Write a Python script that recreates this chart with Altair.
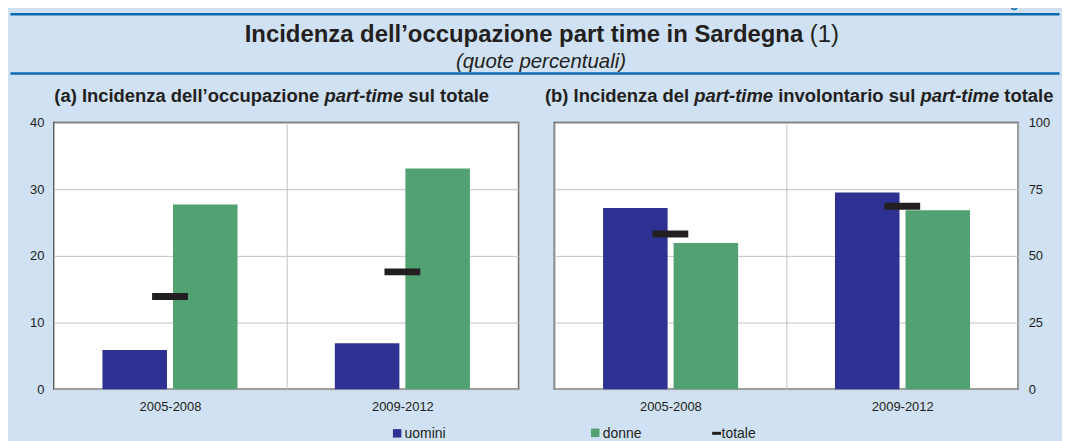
import altair as alt
import pandas as pd

# ---------------- data ----------------
periods = ["2005-2008", "2009-2012"]
sexes = ["uomini", "donne"]
uomini_a = [5.9, 6.9]
donne_a = [27.7, 33.1]
totale_a = [13.9, 17.6]
uomini_b = [67.9, 73.8]
donne_b = [54.8, 67.1]
totale_b = [58.2, 68.6]
y_ticks_a = [0, 10, 20, 30, 40]
y_ticks_b = [0, 25, 50, 75, 100]

title_main = "Incidenza dell\u2019occupazione part time in Sardegna"
title_note = "(1)"
subtitle = "(quote percentuali)"
title_a = ["(a) Incidenza dell\u2019occupazione ", "part-time", " sul totale"]
title_b = ["(b) Incidenza del ", "part-time", " involontario sul ", "part-time", " totale"]
legend_labels = ["uomini", "donne", "totale"]

# ---------------- style ----------------
BLUE = "#2e3192"
GREEN = "#52a173"
BLACK = "#231f20"
BG = "#cfe1f2"
LINE = "#0b6aae"
FONT = "Liberation Sans"

# Arial-metric widths (1/1000 em) for laying out mixed-style title runs
W_BOLD = {" ": 278, "(": 333, ")": 333, "-": 333, "\u2019": 278, "a": 556, "b": 611,
          "c": 556, "d": 611, "e": 556, "i": 278, "l": 278, "m": 889, "n": 611,
          "o": 611, "p": 611, "r": 389, "s": 556, "t": 333, "u": 611, "v": 556,
          "z": 500, "I": 278, "S": 667, "g": 611, "1": 556}


def tw(s, size):
    return sum(W_BOLD.get(c, 556) for c in s) * size / 1000.0


one = pd.DataFrame({"k": [0]})

# left plot origin in page coords: (51.5, 120.7)
OX, OY = 51.5, 120.7
RIGHT_EDGE = 1062  # page width minus body margin


def px(page_x):
    return page_x - OX


def py(page_y):
    return page_y - OY


def txt(s, x, y, size, weight="normal", style="normal", align="left",
        color=BLACK, baseline="alphabetic"):
    return alt.Chart(one).mark_text(
        text=s, font=FONT, fontSize=size, fontWeight=weight, fontStyle=style,
        align=align, baseline=baseline, color=color
    ).encode(x=alt.value(x), y=alt.value(y))


def hline(x1, x2, y, color, width):
    return alt.Chart(one).mark_rule(color=color, strokeWidth=width).encode(
        x=alt.value(x1), x2=alt.value(x2), y=alt.value(y))


def runs(segments, x0, y, size):
    """Lay out bold title runs; 'part-time' is bold italic."""
    out = []
    x = x0
    for seg in segments:
        lead = len(seg) - len(seg.lstrip(" "))
        out.append(txt(seg.strip(" "), px(x + tw(" " * lead, size)), py(y), size,
                       weight="bold",
                       style="italic" if seg.strip() == "part-time" else "normal"))
        x += tw(seg, size)
    return out


# ---------------- panels ----------------
def panel(uom, don, tot, ticks, orient):
    bars_df = pd.DataFrame({
        "period": periods * 2,
        "sex": ["uomini"] * len(periods) + ["donne"] * len(periods),
        "value": uom + don,
    })
    tot_df = pd.DataFrame({"period": periods, "value": tot})
    x = alt.X("period:N", sort=periods,
              scale=alt.Scale(paddingInner=0, paddingOuter=0),
              axis=alt.Axis(title=None, labelAngle=0, tickBand="extent", grid=True,
                            ticks=False, domain=False, labelPadding=11))
    y = alt.Y("value:Q",
              scale=alt.Scale(domain=[ticks[0], ticks[-1]], nice=False),
              axis=alt.Axis(title=None, values=ticks, orient=orient, grid=True,
                            ticks=False, domain=False, labelPadding=10))
    bars = alt.Chart(bars_df).mark_bar().encode(
        x=x,
        xOffset=alt.XOffset("sex:N", sort=sexes,
                            scale=alt.Scale(paddingInner=0.085, paddingOuter=0.69)),
        y=y,
        color=alt.Color("sex:N", scale=alt.Scale(domain=sexes, range=[BLUE, GREEN]),
                        legend=None),
    )
    tick = alt.Chart(tot_df).mark_tick(color=BLACK, thickness=7, size=36, opacity=1).encode(
        x=x, y=y)
    return bars, tick


bars_a, tick_a = panel(uomini_a, donne_a, totale_a, y_ticks_a, "left")
bars_b, tick_b = panel(uomini_b, donne_b, totale_b, y_ticks_b, "right")

# ---------------- annotations (left panel coordinates) ----------------
bg = alt.Chart(one).mark_rect(opacity=0).encode(
    x=alt.value(px(8)), x2=alt.value(px(RIGHT_EDGE)),
    y=alt.value(py(8)), y2=alt.value(py(441)))

ann = [bg,
       hline(px(8), px(RIGHT_EDGE), py(12), LINE, 2.4),
       hline(px(8), px(RIGHT_EDGE), py(71.5), LINE, 2.4),
       txt("Figura 13", px(RIGHT_EDGE), py(8), 14, weight="bold", align="right",
           color=LINE, baseline="bottom")]

# main title
MT = 24
split = 243 + tw(title_main, MT)
ann.append(txt(title_main, px(split), py(40), MT, weight="bold", align="right"))
ann.append(txt(title_note, px(split + 0.278 * MT), py(40), MT, align="left"))
ann.append(txt(subtitle, px(541), py(66), 20.5, style="italic", align="center"))

# panel titles
PT = 18.5
ann += runs(title_a, 52.0, 100, PT)
ann += runs(title_b, 545.0, 100, PT)

# legend
LY = 433
ann.append(alt.Chart(one).mark_square(size=72, color=BLUE, opacity=1).encode(
    x=alt.value(px(396.5)), y=alt.value(py(LY))))
ann.append(txt(legend_labels[0], px(404), py(437.5), 14))
ann.append(alt.Chart(one).mark_square(size=72, color=GREEN, opacity=1).encode(
    x=alt.value(px(595.5)), y=alt.value(py(LY - 0.5))))
ann.append(txt(legend_labels[1], px(603), py(437.5), 14))
ann.append(hline(px(713), px(722), py(LY), BLACK, 3))
ann.append(txt(legend_labels[2], px(722.5), py(437.5), 14))

left = alt.layer(*ann, bars_a, tick_a).properties(width=467, height=268)
right = alt.layer(bars_b, tick_b).properties(width=466, height=268)

chart = alt.hconcat(left, right, spacing=36, bounds="flush").properties(
    background=BG,
    padding={"top": -14, "bottom": 0, "left": 0, "right": 0},
).configure_view(
    fill="white", stroke="#3a3a3a", strokeWidth=1.5
).configure_axis(
    labelFont=FONT, labelFontSize=13, labelColor=BLACK,
    gridColor="#c2c2c2", gridWidth=1
)

chart.save("out.html", embed_options={"renderer": "svg", "actions": False})
